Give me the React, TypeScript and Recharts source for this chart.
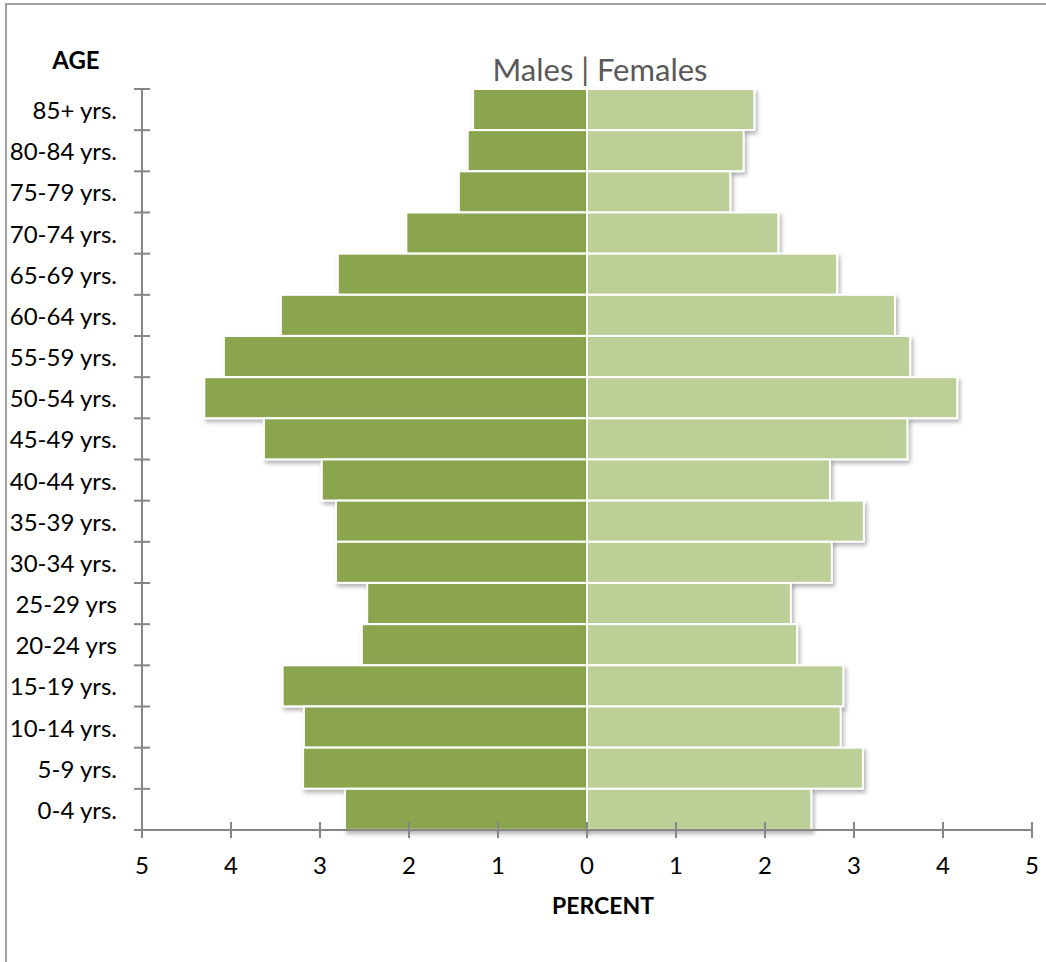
import { BarChart, Bar, XAxis, YAxis } from "recharts";

const ages = [
  "85+ yrs.", "80-84 yrs.", "75-79 yrs.", "70-74 yrs.", "65-69 yrs.", "60-64 yrs.",
  "55-59 yrs.", "50-54 yrs.", "45-49 yrs.", "40-44 yrs.", "35-39 yrs.", "30-34 yrs.",
  "25-29 yrs", "20-24 yrs", "15-19 yrs.", "10-14 yrs.", "5-9 yrs.", "0-4 yrs.",
];
const males = [1.28, 1.34, 1.44, 2.03, 2.8, 3.44, 4.08, 4.3, 3.63, 2.98, 2.82, 2.82, 2.47, 2.53, 3.42, 3.18, 3.19, 2.72];
const females = [1.88, 1.76, 1.61, 2.15, 2.81, 3.46, 3.63, 4.16, 3.6, 2.73, 3.11, 2.75, 2.29, 2.36, 2.88, 2.85, 3.1, 2.52];
const percentTicks = [-5, -4, -3, -2, -1, 0, 1, 2, 3, 4, 5];

const data = ages.map((age, i) => ({ age, male: -males[i], female: females[i] }));

const W = 1046;
const H = 962;
const TOP = 89;
const BOTTOM = 830;
const STEP = (BOTTOM - TOP) / ages.length;
const AXIS = "#868686";
const FONT = "Lato, 'Open Sans', sans-serif";

function AgeTick({ x, y, payload, index }: any) {
  const last = index === ages.length - 1;
  return (
    <g>
      <line x1={x - 8} x2={x + 8} y1={y - STEP / 2} y2={y - STEP / 2} stroke={AXIS} strokeWidth={2} />
      {last && <line x1={x - 8} x2={x} y1={y + STEP / 2} y2={y + STEP / 2} stroke={AXIS} strokeWidth={2} />}
      <text x={x - 25} y={y} textAnchor="end" dominantBaseline="central" fontSize={24} fill="#000" fontFamily={FONT}>
        {payload.value}
      </text>
    </g>
  );
}

function PercentTick({ x, y, payload }: any) {
  return (
    <g>
      <line x1={x} x2={x} y1={y - 8} y2={y + 8} stroke={AXIS} strokeWidth={2} />
      <text x={x} y={y + 34} textAnchor="middle" dominantBaseline="central" fontSize={24} fill="#000" fontFamily={FONT}>
        {Math.abs(payload.value)}
      </text>
    </g>
  );
}

function ShadowBar(props: any) {
  const { x, y, width, height, fill } = props;
  const left = Math.min(x, x + width);
  const w = Math.abs(width);
  return <rect x={left} y={y} width={w} height={height} fill={fill} stroke="#fff" strokeWidth={2} filter="url(#barShadow)" />;
}

export default function App() {
  return (
    <div style={{ position: "absolute", left: 0, top: 0, width: W, height: H, overflow: "hidden", background: "#fff", fontFamily: FONT }}>
      <svg width={0} height={0} style={{ position: "absolute" }}>
        <defs>
          <filter id="barShadow" x="-10%" y="-30%" width="130%" height="180%">
            <feDropShadow dx={2} dy={3} stdDeviation={2} floodColor="#000" floodOpacity={0.3} />
          </filter>
        </defs>
      </svg>
      <div style={{ position: "absolute", left: 5, top: 3, width: 1200, height: 1200, border: "2px solid #a0a0a0" }} />
      <BarChart
        width={W}
        height={H}
        data={data}
        layout="vertical"
        stackOffset="sign"
        barCategoryGap={0}
        margin={{ top: TOP, right: 14, left: 0, bottom: 92 }}
      >
        <XAxis
          type="number"
          domain={[-5, 5]}
          ticks={percentTicks}
          interval={0}
          height={40}
          stroke={AXIS}
          axisLine={{ stroke: AXIS, strokeWidth: 2 }}
          tickLine={false}
          tickSize={0}
          tickMargin={0}
          tick={<PercentTick />}
        />
        <YAxis
          type="category"
          dataKey="age"
          width={142}
          interval={0}
          axisLine={{ stroke: AXIS, strokeWidth: 2 }}
          tickLine={false}
          tickSize={0}
          tickMargin={0}
          tick={<AgeTick />}
        />
        <Bar dataKey="male" stackId="a" fill="#8ba550" shape={<ShadowBar />} isAnimationActive={false} />
        <Bar dataKey="female" stackId="a" fill="#bbcf97" shape={<ShadowBar />} isAnimationActive={false} />
      </BarChart>
      <div style={{ position: "absolute", left: 36, top: 45, width: 80, textAlign: "center", fontWeight: 700, fontSize: 24, lineHeight: "30px" }}>AGE</div>
      <div style={{ position: "absolute", left: 450, top: 49, width: 300, textAlign: "center", fontSize: 31, lineHeight: "40px", color: "#595959" }}>
        Males | Females
      </div>
      <div style={{ position: "absolute", left: 503, top: 890, width: 200, textAlign: "center", fontWeight: 700, fontSize: 23, lineHeight: "30px" }}>PERCENT</div>
    </div>
  );
}
